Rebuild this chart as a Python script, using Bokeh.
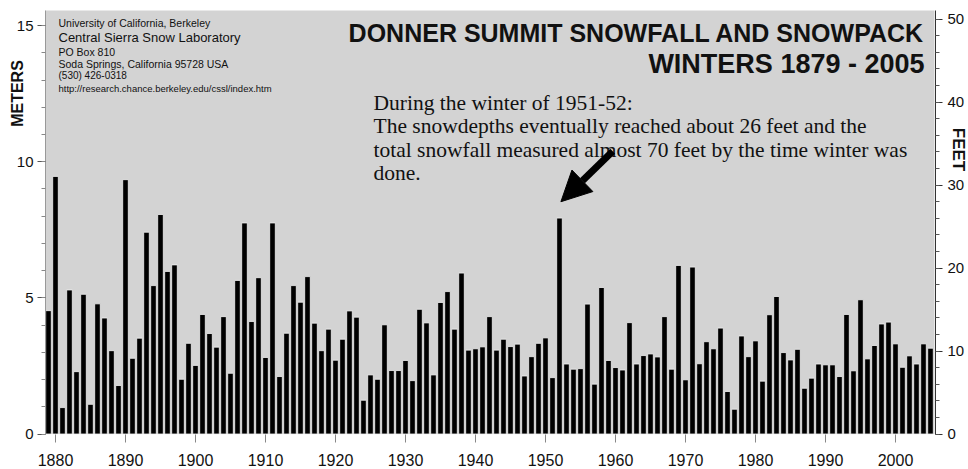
from bokeh.plotting import figure
from bokeh.models import (Range1d, LinearAxis, SingleIntervalTicker, FixedTicker,
                          Label, Arrow, NormalHead, ColumnDataSource, BoxAnnotation)
from bokeh.embed import file_html
from bokeh.resources import INLINE

# ---------------- data ----------------
years = list(range(1879, 2006))
depth_m = [
    4.53,                                                         # 1879
    9.46, 0.97, 5.29, 2.29, 5.13, 1.09, 4.78, 4.26, 3.06, 1.78,   # 1880s
    9.34, 2.78, 3.52, 7.41, 5.45, 8.06, 5.97, 6.21, 2.01, 3.33,   # 1890s
    2.52, 4.39, 3.69, 3.19, 4.31, 2.23, 5.64, 7.75, 4.13, 5.74,   # 1900s
    2.81, 7.75, 2.11, 3.70, 5.45, 4.84, 5.78, 4.07, 3.06, 3.85,   # 1910s
    2.71, 3.48, 4.52, 4.29, 1.24, 2.17, 2.01, 4.01, 2.33, 2.33,   # 1920s
    2.70, 1.96, 4.58, 4.08, 2.17, 4.83, 5.23, 3.85, 5.91, 3.08,   # 1930s
    3.13, 3.20, 4.31, 3.08, 3.48, 3.21, 3.30, 2.13, 2.84, 3.33,   # 1940s
    3.53, 2.07, 7.93, 2.57, 2.38, 2.40, 4.77, 1.83, 5.38, 2.70,   # 1950s
    2.44, 2.35, 4.09, 2.57, 2.88, 2.94, 2.83, 4.31, 2.38, 6.19,   # 1960s
    1.99, 6.13, 2.58, 3.39, 3.13, 3.89, 1.56, 0.91, 3.60, 2.84,   # 1970s
    3.42, 1.94, 4.38, 5.05, 2.99, 2.72, 3.11, 1.68, 2.05, 2.57,   # 1980s
    2.54, 2.54, 2.11, 4.39, 2.32, 4.93, 2.76, 3.25, 4.04, 4.11,   # 1990s
    3.31, 2.45, 2.87, 2.57, 3.31, 3.15,                           # 2000s
]
year_ticks = [1880, 1890, 1900, 1910, 1920, 1930, 1940, 1950, 1960, 1970, 1980, 1990, 2000]
meter_tick_step = 5
feet_tick_step = 10
highlight_year = 1952

title_lines = ["DONNER SUMMIT SNOWFALL AND SNOWPACK", "WINTERS 1879 - 2005"]
info_lines = ["University of California, Berkeley",
              "Central Sierra Snow Laboratory",
              "PO Box 810",
              "Soda Springs, California 95728 USA",
              "(530) 426-0318",
              "http://research.chance.berkeley.edu/cssl/index.htm"]
note_lines = ["During the winter of 1951-52:",
              "The snowdepths eventually reached about 26 feet and the",
              "total snowfall measured almost 70 feet by the time winter was",
              "done."]

FT_PER_M = 1 / 0.3048

# ---------------- layout constants (pixels) ----------------
W, H = 968, 469
X_1880_PX, PX_PER_YEAR = 55.0, 7.0
Y_0_PX, PX_PER_M = 433.5, 27.23

def px_to_year(px):
    return 1880 + (px - X_1880_PX) / PX_PER_YEAR

def py_to_m(py):
    return (Y_0_PX - py) / PX_PER_M

PLOT_LEFT = px_to_year(45)
PLOT_RIGHT = px_to_year(934)
RIGHT_AXIS_X = px_to_year(935)
PLOT_TOP = py_to_m(10)

SANS = "Liberation Sans"
SERIF = "Liberation Serif"
INK = "#111111"

# ---------------- figure ----------------
p = figure(width=W, height=H, title=None,
           x_range=Range1d(px_to_year(0), px_to_year(W)),
           y_range=Range1d(py_to_m(H), py_to_m(0)),
           output_backend="svg", toolbar_location=None, min_border=0)
p.background_fill_color = "white"
p.border_fill_color = "white"
p.outline_line_color = None
p.xgrid.grid_line_color = None
p.ygrid.grid_line_color = None

# grey plotting area
p.add_layout(BoxAnnotation(left=PLOT_LEFT, right=PLOT_RIGHT, bottom=0, top=PLOT_TOP,
                           fill_color="#d3d3d3", fill_alpha=1.0, line_color=None,
                           level="image"))

src = ColumnDataSource(dict(year=years, depth=depth_m))
p.vbar(x="year", top="depth", width=0.8, source=src, fill_color="black",
       line_color="#f2f2f2", line_width=0.8)

# x axis
xa = p.xaxis[0]
xa.fixed_location = 0
xa.bounds = (PLOT_LEFT, PLOT_RIGHT)
xa.ticker = FixedTicker(ticks=year_ticks)
xa.axis_line_color = None
xa.major_tick_out = 8
xa.major_tick_in = 0
xa.major_tick_line_color = "#888888"
xa.minor_tick_line_color = None
xa.major_label_standoff = 12
xa.major_label_text_font = SANS
xa.major_label_text_font_size = "16px"
xa.major_label_text_color = INK

# left axis (meters)
ya = p.yaxis[0]
ya.fixed_location = PLOT_LEFT
ya.bounds = (0, PLOT_TOP)
ya.ticker = SingleIntervalTicker(interval=meter_tick_step, num_minor_ticks=5)
ya.axis_line_color = "#999999"
ya.major_tick_out = 8
ya.major_tick_in = 0
ya.minor_tick_out = 4
ya.minor_tick_in = 0
ya.major_tick_line_color = "#555555"
ya.minor_tick_line_color = "#888888"
ya.major_label_standoff = 4
ya.major_label_text_font = SANS
ya.major_label_text_font_size = "15px"
ya.major_label_text_color = INK

# right axis (feet)
p.extra_y_ranges = {"ft": Range1d(py_to_m(H) * FT_PER_M, py_to_m(0) * FT_PER_M)}
ra = LinearAxis(y_range_name="ft",
                ticker=SingleIntervalTicker(interval=feet_tick_step, num_minor_ticks=5))
ra.fixed_location = RIGHT_AXIS_X
ra.bounds = (0, PLOT_TOP * FT_PER_M)
ra.axis_line_color = "#333333"
ra.major_tick_out = 7
ra.major_tick_in = 0
ra.minor_tick_out = 4
ra.minor_tick_in = 0
ra.major_tick_line_color = "#333333"
ra.minor_tick_line_color = "#555555"
ra.major_label_standoff = 5
ra.major_label_text_font = SANS
ra.major_label_text_font_size = "15px"
ra.major_label_text_color = INK
p.add_layout(ra, "right")

# ---------------- texts ----------------
def lab(text, px, py, size, font=SANS, style="normal", align="left",
        baseline="alphabetic", angle=0, color=INK):
    p.add_layout(Label(x=px, y=H - py, x_units="screen", y_units="screen", text=text,
                       text_font=font, text_font_size=size, text_font_style=style,
                       text_align=align, text_baseline=baseline, angle=angle,
                       angle_units="deg", text_color=color))

# title (right aligned)
lab(title_lines[0], 924, 32, "25px", style="bold", align="right")
lab(title_lines[1], 924, 63, "27px", style="bold", align="right")

# info block
info_sizes = ["10.5px", "13px", "10.5px", "10.5px", "10px", "9.5px"]
info_base = [22, 37, 51, 63, 75, 88]
for t, s, b in zip(info_lines, info_sizes, info_base):
    lab(t, 58, b, s)

# annotation note
note_base = [102, 125, 149, 172]
for t, b in zip(note_lines, note_base):
    lab(t, 373, b, "21.5px", font=SERIF)

# axis titles
lab("METERS", 16.5, 93, "16px", style="bold", align="center", baseline="middle", angle=90)
lab("FEET", 957.5, 149, "17px", style="bold", align="center", baseline="middle", angle=-90)

# arrow to the 1951-52 bar
peak = depth_m[years.index(highlight_year)]
p.add_layout(Arrow(end=NormalHead(size=30, fill_color="black", line_color="black"),
                   x_start=highlight_year + 7.6, y_start=peak + 2.45,
                   x_end=highlight_year + 0.2, y_end=peak + 0.6,
                   line_width=7, line_color="black"))

open("out.html", "w").write(file_html(p, INLINE))
